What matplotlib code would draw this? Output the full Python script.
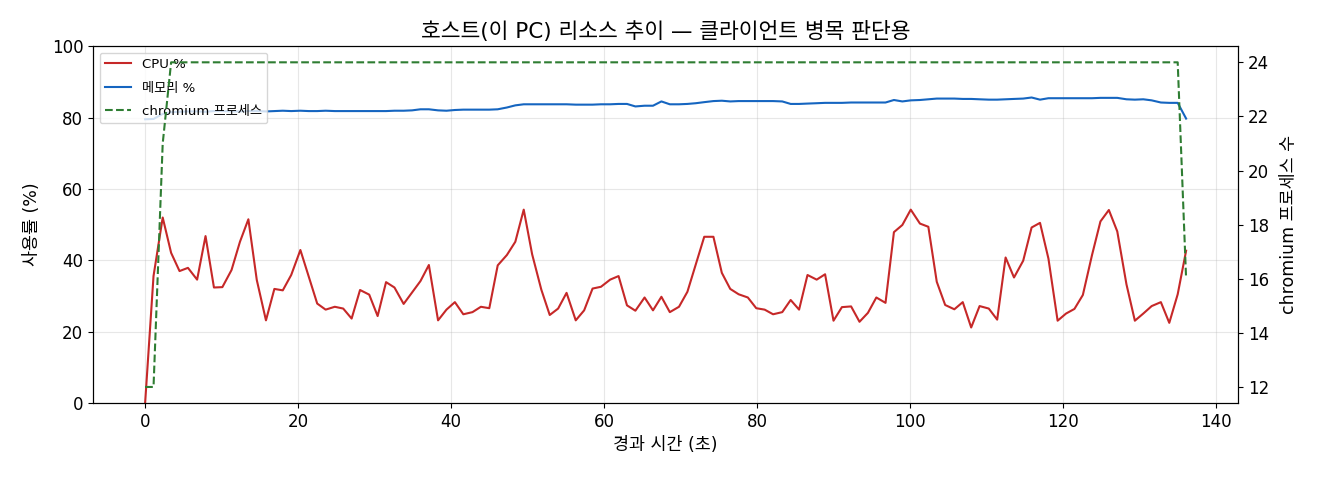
import matplotlib
matplotlib.use("Agg")
import matplotlib.pyplot as plt

plt.rcParams['font.family'] = ['DejaVu Sans', 'Noto Sans CJK KR']
plt.rcParams['axes.unicode_minus'] = False
plt.rcParams['font.size'] = 12

# elapsed seconds of each sample
elapsed = [
    0.0, 1.1, 2.3, 3.4, 4.5, 5.6, 6.8, 7.9,
    9.0, 10.1, 11.3, 12.4, 13.5, 14.6, 15.8, 16.9,
    18.0, 19.1, 20.3, 21.4, 22.5, 23.6, 24.8, 25.9,
    27.0, 28.1, 29.3, 30.4, 31.5, 32.6, 33.8, 34.9,
    36.0, 37.1, 38.3, 39.4, 40.5, 41.6, 42.8, 43.9,
    45.0, 46.1, 47.3, 48.4, 49.5, 50.6, 51.8, 52.9,
    54.0, 55.1, 56.3, 57.4, 58.5, 59.6, 60.8, 61.9,
    63.0, 64.1, 65.3, 66.4, 67.5, 68.6, 69.8, 70.9,
    72.0, 73.1, 74.3, 75.4, 76.5, 77.6, 78.8, 79.9,
    81.0, 82.1, 83.3, 84.4, 85.5, 86.6, 87.8, 88.9,
    90.0, 91.1, 92.3, 93.4, 94.5, 95.6, 96.8, 97.9,
    99.0, 100.1, 101.3, 102.4, 103.5, 104.6, 105.8, 106.9,
    108.0, 109.1, 110.3, 111.4, 112.5, 113.6, 114.8, 115.9,
    117.0, 118.1, 119.3, 120.4, 121.5, 122.6, 123.8, 124.9,
    126.0, 127.1, 128.3, 129.4, 130.5, 131.6, 132.8, 133.9,
    135.0, 136.1,
]

cpu = [
    0.0, 35.6, 52.0, 42.1, 37.0, 37.9, 34.6, 46.8, 32.4, 32.5,
    37.3, 45.2, 51.5, 34.5, 23.2, 32.0, 31.6, 35.9, 42.9, 35.4,
    27.9, 26.2, 27.0, 26.5, 23.7, 31.7, 30.4, 24.4, 33.9, 32.4,
    27.8, 31.0, 34.2, 38.7, 23.2, 26.2, 28.3, 24.9, 25.5, 27.0,
    26.6, 38.6, 41.5, 45.2, 54.2, 41.7, 31.8, 24.7, 26.5, 30.9,
    23.2, 26.0, 32.1, 32.6, 34.6, 35.6, 27.4, 25.9, 29.6, 26.0,
    29.8, 25.5, 27.0, 31.2, 38.9, 46.6, 46.6, 36.5, 32.0, 30.5,
    29.6, 26.6, 26.2, 24.9, 25.5, 28.9, 26.2, 35.9, 34.6, 36.1,
    23.1, 26.9, 27.1, 22.8, 25.3, 29.6, 28.1, 47.9, 49.9, 54.2,
    50.3, 49.4, 34.0, 27.5, 26.3, 28.3, 21.2, 27.2, 26.5, 23.4,
    40.8, 35.2, 39.9, 49.2, 50.5, 40.5, 23.1, 25.1, 26.4, 30.3,
    41.5, 50.9, 54.1, 48.1, 33.3, 23.1, 25.1, 27.2, 28.3, 22.5,
    30.5, 42.7,
]

mem = [
    79.5, 79.6, 81.0, 81.5, 81.6, 81.7, 81.7, 81.6, 81.8, 81.8,
    81.7, 81.7, 81.8, 81.8, 81.7, 81.8, 81.9, 81.8, 81.9, 81.8,
    81.8, 81.9, 81.8, 81.8, 81.8, 81.8, 81.8, 81.8, 81.8, 81.9,
    81.9, 82.0, 82.3, 82.3, 82.0, 81.9, 82.1, 82.2, 82.2, 82.2,
    82.2, 82.3, 82.8, 83.4, 83.7, 83.7, 83.7, 83.7, 83.7, 83.7,
    83.6, 83.6, 83.6, 83.7, 83.7, 83.8, 83.8, 83.1, 83.3, 83.3,
    84.5, 83.7, 83.7, 83.8, 84.0, 84.3, 84.6, 84.7, 84.5, 84.6,
    84.6, 84.6, 84.6, 84.6, 84.5, 83.8, 83.8, 83.9, 84.0, 84.1,
    84.1, 84.1, 84.2, 84.2, 84.2, 84.2, 84.2, 84.9, 84.5, 84.8,
    84.9, 85.1, 85.3, 85.3, 85.3, 85.2, 85.2, 85.1, 85.0, 85.0,
    85.1, 85.2, 85.3, 85.6, 85.0, 85.4, 85.4, 85.4, 85.4, 85.4,
    85.4, 85.5, 85.5, 85.5, 85.1, 85.0, 85.1, 84.8, 84.2, 84.1,
    84.1, 79.7,
]

chromium = [12, 12, 21] + [24] * 118 + [16]

fig, ax = plt.subplots(figsize=(13.2, 4.8), dpi=100)
fig.subplots_adjust(left=0.0705, right=0.938, top=0.904, bottom=0.160)

l1, = ax.plot(elapsed, cpu, color='#c62828', lw=1.5, label='CPU %')
l2, = ax.plot(elapsed, mem, color='#1565c0', lw=1.5, label='메모리 %')
ax.set_ylim(0, 100)
ax.set_xlabel('경과 시간 (초)', fontsize=12.5)
ax.set_ylabel('사용률 (%)', fontsize=12.5, labelpad=8)
ax.grid(True, alpha=0.3)

ax2 = ax.twinx()
l3, = ax2.plot(elapsed, chromium, color='#2e7d32', lw=1.5, ls='--', label='chromium 프로세스')
ax2.set_ylabel('chromium 프로세스 수', fontsize=12.5, labelpad=8)

ax.legend(handles=[l1, l2, l3], loc='upper left', fontsize=9.5, labelspacing=0.8)
ax.set_title('호스트(이 PC) 리소스 추이 — 클라이언트 병목 판단용', fontsize=15.5)

fig.savefig('out.png', dpi=100)
